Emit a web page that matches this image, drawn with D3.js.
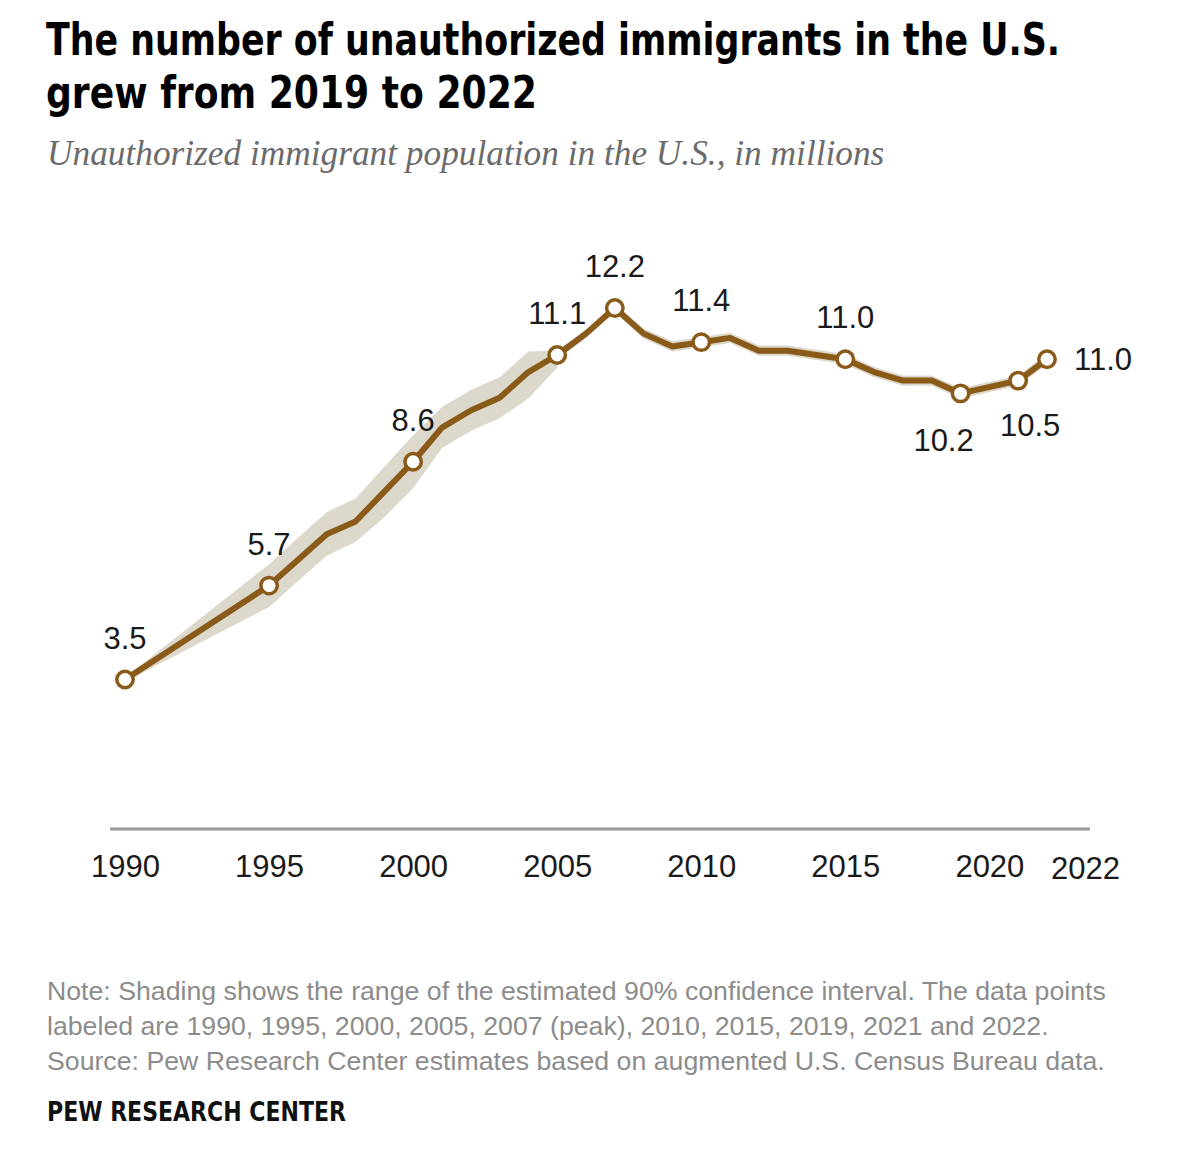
<!DOCTYPE html>
<html>
<head>
<meta charset="utf-8">
<script src="https://cdn.jsdelivr.net/npm/d3@7"></script>
<style>
  body { margin: 0; background: #fff; }
  svg { display: block; }
</style>
</head>
<body>
<div id="chart"></div>
<script>
// Unauthorized immigrant population in the U.S., in millions
const years = [1990, 1995, 1996, 1997, 1998, 1999, 2000, 2001, 2002, 2003, 2004, 2005, 2006, 2007,
  2008, 2009, 2010, 2011, 2012, 2013, 2014, 2015, 2016, 2017, 2018, 2019, 2021, 2022]
const values = [3.5, 5.7, 6.3, 6.9, 7.2, 7.9, 8.6, 9.4, 9.8, 10.1, 10.7, 11.1, 11.6, 12.2,
  11.6, 11.3, 11.4, 11.5, 11.2, 11.2, 11.1, 11.0, 10.7, 10.5, 10.5, 10.2, 10.5, 11.0]

// 90% confidence interval, earlier series (1990-2005)
const earlyYears = [1990, 1995, 1996, 1997, 1998, 1999, 2000, 2001, 2002, 2003, 2004, 2005]
const earlyLow = [3.45, 5.2, 5.8, 6.4, 6.72, 7.3, 7.98, 8.92, 9.32, 9.62, 10.08, 10.8]
const earlyHigh = [3.55, 6.2, 6.82, 7.42, 7.74, 8.48, 9.22, 9.88, 10.28, 10.58, 11.18, 11.2]

// 90% confidence interval, later series (2005-2022)
const lateYears = [2005, 2006, 2007, 2008, 2009, 2010, 2011, 2012, 2013, 2014, 2015, 2016, 2017,
  2018, 2019, 2021, 2022]
const lateLow = [11.0, 11.5, 12.1, 11.48, 11.18, 11.28, 11.38, 11.08, 11.08, 10.98, 10.88, 10.58, 10.38,
  10.38, 10.08, 10.38, 10.88]
const lateHigh = [11.2, 11.7, 12.3, 11.72, 11.42, 11.52, 11.62, 11.32, 11.32, 11.22, 11.12, 10.82, 10.62,
  10.62, 10.32, 10.62, 11.12]

const labeledYears = [1990, 1995, 2000, 2005, 2007, 2010, 2015, 2019, 2021, 2022]
const tickYears = [1990, 1995, 2000, 2005, 2010, 2015, 2020, 2022]

const titleLines = ["The number of unauthorized immigrants in the U.S.", "grew from 2019 to 2022"]
const subtitle = "Unauthorized immigrant population in the U.S., in millions"
const noteLines = [
  "Note: Shading shows the range of the estimated 90% confidence interval. The data points",
  "labeled are 1990, 1995, 2000, 2005, 2007 (peak), 2010, 2015, 2019, 2021 and 2022.",
  "Source: Pew Research Center estimates based on augmented U.S. Census Bureau data."
]

const WIDTH = 1200
const HEIGHT = 1150
const MARGIN = { LEFT: 125, RIGHT: 153, TOP: 0, BOTTOM: 0 }
const BASE_Y = 829
const LINE_COLOR = "#8a5a19"
const BAND_COLOR = "#dcd8cc"
const CONDENSED = "'Liberation Sans Narrow', 'Arial Narrow', 'DejaVu Sans Condensed', sans-serif"
const SANS = "'Liberation Sans', Arial, sans-serif"

// widths of the condensed headline lines in the original layout
const titleWidths = [1014, 491]

// label placement relative to the marker
const labelPos = {
  2019: { dx: -17, dy: 58, anchor: "middle" },
  2021: { dx: 12, dy: 55, anchor: "middle" },
  2022: { dx: 27, dy: 11, anchor: "start" }
}

const svg = d3.select("#chart").append("svg")
  .attr("width", WIDTH)
  .attr("height", HEIGHT)

const x = d3.scaleLinear()
  .domain([1990, 2022])
  .range([MARGIN.LEFT, WIDTH - MARGIN.RIGHT])

const y = d3.scaleLinear()
  .domain([0, 12.2])
  .range([BASE_Y, 308])

// titles
svg.selectAll("text.title")
  .data(titleLines)
  .join("text")
    .attr("class", "title")
    .attr("x", 46)
    .attr("y", (d, i) => 55 + i * 53)
    .attr("font-family", CONDENSED)
    .attr("font-weight", "bold")
    .attr("font-size", "44px")
    .attr("fill", "#000")
    .attr("textLength", (d, i) => titleWidths[i])
    .attr("lengthAdjust", "spacingAndGlyphs")
    .text(d => d)

svg.append("text")
  .attr("x", 47)
  .attr("y", 165)
  .attr("font-family", "'Liberation Serif', 'DejaVu Serif', serif")
  .attr("font-style", "italic")
  .attr("font-size", "35.3px")
  .attr("fill", "#6b6b6b")
  .text(subtitle)

const g = svg.append("g")

// confidence bands
const area = d3.area()
  .x(d => x(d.year))
  .y0(d => y(d.low))
  .y1(d => y(d.high))

const earlyBand = earlyYears.map((yr, i) => ({ year: yr, low: earlyLow[i], high: earlyHigh[i] }))
const lateBand = lateYears.map((yr, i) => ({ year: yr, low: lateLow[i], high: lateHigh[i] }))

g.selectAll("path.band")
  .data([earlyBand, lateBand])
  .join("path")
    .attr("class", "band")
    .attr("d", area)
    .attr("fill", BAND_COLOR)

// baseline
g.append("line")
  .attr("x1", x.range()[0] - 15)
  .attr("x2", x.range()[1] + 43)
  .attr("y1", BASE_Y)
  .attr("y2", BASE_Y)
  .attr("stroke", "#9a9a9a")
  .attr("stroke-width", 3)

// x axis
const xAxis = d3.axisBottom(x)
  .tickValues(tickYears)
  .tickSize(0)
  .tickPadding(26)
  .tickFormat(d3.format("d"))

const axisG = g.append("g")
  .attr("transform", `translate(0, ${BASE_Y})`)
  .call(xAxis)

axisG.select(".domain").remove()
axisG.selectAll("text")
  .attr("font-family", SANS)
  .attr("font-size", "31px")
  .attr("fill", "#1a1a1a")
  .attr("dx", d => d === 2022 ? 38 : 0)
  .attr("dy", d => d === 2022 ? "0.78em" : "0.71em")

// line
const data = years.map((yr, i) => ({ year: yr, value: values[i] }))

const line = d3.line()
  .x(d => x(d.year))
  .y(d => y(d.value))

g.append("path")
  .datum(data)
  .attr("d", line)
  .attr("fill", "none")
  .attr("stroke", LINE_COLOR)
  .attr("stroke-width", 6)
  .attr("stroke-linejoin", "round")
  .attr("stroke-linecap", "round")

const labeled = data.filter(d => labeledYears.includes(d.year))

g.selectAll("circle.dot")
  .data(labeled)
  .join("circle")
    .attr("class", "dot")
    .attr("cx", d => x(d.year))
    .attr("cy", d => y(d.value))
    .attr("r", 8.2)
    .attr("fill", "#fff")
    .attr("stroke", LINE_COLOR)
    .attr("stroke-width", 3.5)

g.selectAll("text.val")
  .data(labeled)
  .join("text")
    .attr("class", "val")
    .attr("x", d => x(d.year) + (labelPos[d.year] ? labelPos[d.year].dx : 0))
    .attr("y", d => y(d.value) + (labelPos[d.year] ? labelPos[d.year].dy : -31))
    .attr("text-anchor", d => labelPos[d.year] ? labelPos[d.year].anchor : "middle")
    .attr("font-family", SANS)
    .attr("font-size", "31px")
    .attr("fill", "#1a1a1a")
    .text(d => d3.format(".1f")(d.value))

// notes
svg.append("text")
  .attr("font-family", SANS)
  .attr("font-size", "26.7px")
  .attr("fill", "#8c8c8c")
  .selectAll("tspan")
  .data(noteLines)
  .join("tspan")
    .attr("x", 47)
    .attr("y", (d, i) => 1000 + i * 35)
    .text(d => d)

svg.append("text")
  .attr("x", 47)
  .attr("y", 1121)
  .attr("font-family", CONDENSED)
  .attr("font-weight", "bold")
  .attr("font-size", "26px")
  .attr("fill", "#111")
  .attr("textLength", 299)
  .attr("lengthAdjust", "spacingAndGlyphs")
  .text("PEW RESEARCH CENTER")
</script>
</body>
</html>
